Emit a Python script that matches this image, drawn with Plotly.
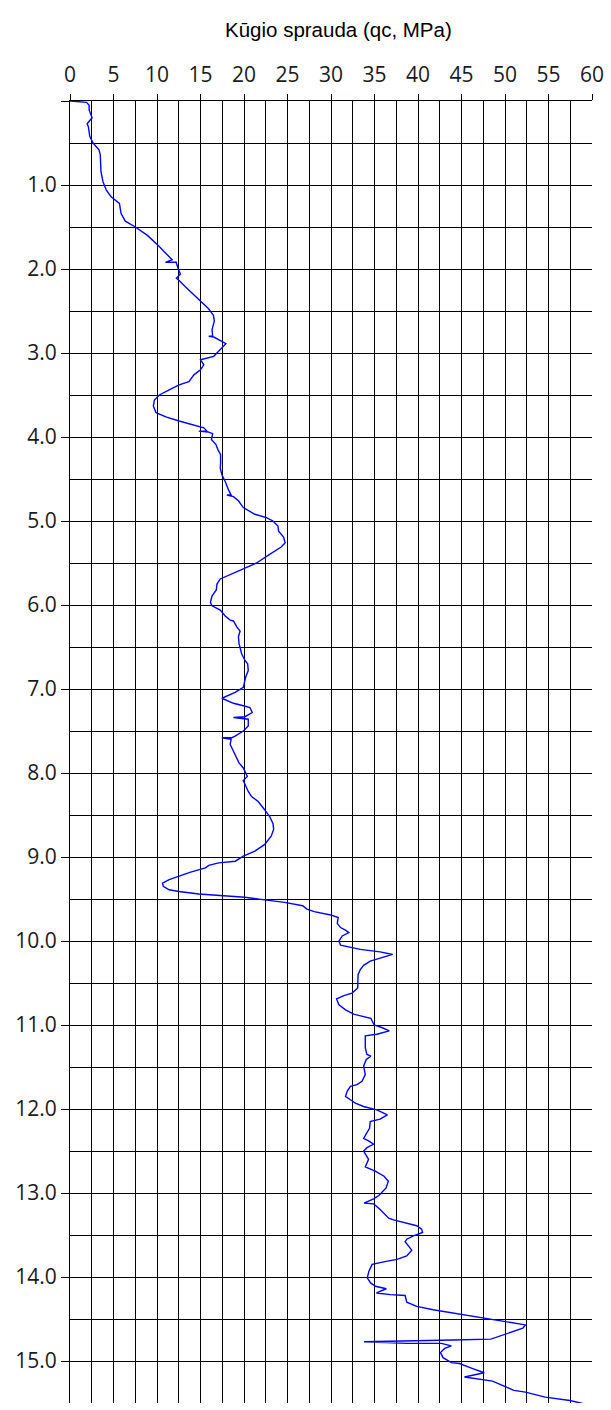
import plotly.graph_objects as go

# Cone penetration log: depth (m) and cone resistance qc (MPa)
depth = [
    0.00, 0.016, 0.05, 0.107, 0.20, 0.27, 0.31, 0.42, 0.50, 0.58, 0.64, 0.84, 0.96,
    1.06, 1.14, 1.18, 1.22, 1.34, 1.43, 1.50, 1.60, 1.73, 1.89, 1.92, 1.92, 1.99,
    2.06, 2.11, 2.14, 2.21, 2.36, 2.47, 2.55, 2.62, 2.72, 2.80, 2.80, 2.81, 2.84,
    2.89, 2.98, 3.04, 3.08, 3.14, 3.20, 3.26, 3.34, 3.38, 3.44, 3.50, 3.56, 3.63,
    3.71, 3.76, 3.81, 3.85, 3.89, 3.93, 3.93, 3.94, 3.96, 4.03, 4.09, 4.15, 4.21,
    4.31, 4.37, 4.45, 4.53, 4.63, 4.69, 4.69, 4.71, 4.76, 4.84, 4.92, 4.96, 5.00,
    5.06, 5.12, 5.19, 5.26, 5.31, 5.41, 5.50, 5.57, 5.63, 5.69, 5.75, 5.82, 5.89,
    5.97, 6.01, 6.06, 6.13, 6.18, 6.19, 6.26, 6.31, 6.38, 6.46, 6.58, 6.66, 6.70,
    6.78, 6.86, 6.98, 7.04, 7.11, 7.17, 7.20, 7.22, 7.28, 7.33, 7.34, 7.35, 7.36,
    7.44, 7.50, 7.56, 7.58, 7.58, 7.60, 7.66, 7.78, 7.88, 7.94, 8.04, 8.09, 8.14,
    8.22, 8.28, 8.34, 8.44, 8.52, 8.60, 8.67, 8.75, 8.85, 8.93, 8.99, 9.05, 9.07,
    9.10, 9.13, 9.18, 9.22, 9.27, 9.31, 9.35, 9.39, 9.41, 9.44, 9.46, 9.48, 9.51,
    9.54, 9.58, 9.62, 9.65, 9.69, 9.72, 9.79, 9.84, 9.87, 9.90, 9.94, 10.00, 10.05,
    10.10, 10.13, 10.16, 10.20, 10.24, 10.29, 10.34, 10.40, 10.48, 10.56, 10.62,
    10.65, 10.69, 10.76, 10.82, 10.87, 10.90, 10.92, 11.00, 11.03, 11.07, 11.11,
    11.13, 11.27, 11.35, 11.37, 11.41, 11.49, 11.59, 11.67, 11.71, 11.73, 11.79,
    11.85, 11.89, 11.93, 11.97, 12.01, 12.07, 12.12, 12.15, 12.23, 12.27, 12.35,
    12.38, 12.42, 12.46, 12.50, 12.60, 12.69, 12.74, 12.80, 12.86, 12.94, 13.03,
    13.07, 13.12, 13.13, 13.20, 13.30, 13.32, 13.36, 13.39, 13.43, 13.47, 13.51,
    13.55, 13.58, 13.64, 13.68, 13.75, 13.79, 13.82, 13.85, 13.93, 14.01, 14.07,
    14.11, 14.14, 14.19, 14.21, 14.22, 14.30, 14.35, 14.39, 14.44, 14.48, 14.53,
    14.57, 14.61, 14.64, 14.67, 14.71, 14.74, 14.75, 14.76, 14.77, 14.79, 14.79,
    14.82, 14.85, 14.90, 14.96, 15.02, 15.03, 15.09, 15.12, 15.14, 15.19, 15.22,
    15.24, 15.29, 15.35, 15.37, 15.43, 15.47, 15.53,
]
qc = [
    0.0, 1.9, 2.2, 2.2, 2.54, 1.97, 2.12, 2.27, 2.65, 3.33, 3.48, 3.56, 3.79,
    4.17, 4.73, 5.23, 5.68, 5.87, 6.36, 7.5, 8.9, 10.23, 11.74, 10.98, 12.2, 12.42,
    12.69, 12.23, 12.58, 13.26, 14.77, 15.9, 16.48, 16.59, 16.33, 16.4, 15.95, 16.52, 17.08,
    17.92, 17.08, 16.52, 15.0, 15.38, 15.0, 14.24, 13.67, 12.54, 11.4, 10.27, 9.7, 9.58,
    9.89, 11.02, 12.54, 14.05, 15.38, 15.76, 14.8, 15.87, 16.4, 16.25, 16.78, 17.0, 17.31,
    17.31, 17.27, 17.46, 17.84, 18.22, 18.52, 18.03, 18.79, 19.36, 19.92, 21.25, 22.58, 23.33,
    23.9, 23.98, 24.55, 24.73, 24.28, 22.77, 21.44, 19.92, 18.6, 17.27, 16.89, 16.82, 16.33,
    16.14, 16.33, 17.27, 17.84, 18.41, 18.79, 19.17, 19.55, 19.36, 19.43, 19.73, 20.11, 20.42,
    20.49, 20.19, 19.92, 18.98, 17.46, 18.79, 19.92, 20.68, 20.95, 20.11, 18.79, 19.92, 20.49,
    20.49, 19.92, 18.98, 18.6, 17.46, 18.52, 18.41, 18.98, 19.43, 19.92, 20.38, 19.92, 20.11,
    20.49, 20.87, 21.63, 22.39, 22.95, 23.33, 23.41, 23.14, 22.39, 21.25, 19.92, 19.0, 17.08,
    15.95, 15.57, 13.86, 12.73, 11.4, 10.64, 10.72, 11.4, 12.54, 14.81, 17.46, 20.11, 22.39,
    24.66, 26.74, 27.23, 28.07, 29.96, 30.83, 30.72, 31.1, 31.67, 32.05, 31.29, 30.91, 31.1,
    33.37, 35.64, 37.08, 35.64, 34.51, 33.75, 33.37, 33.11, 33.11, 33.07, 32.42,
    31.48, 30.64, 30.91, 31.67, 32.61, 33.75, 34.58, 34.96, 35.83, 36.7, 35.27,
    33.94, 33.94, 34.13, 34.58, 34.05, 33.75, 33.94, 33.56, 32.99, 32.23, 31.86,
    31.67, 32.23, 32.8, 33.75, 35.27, 36.48, 35.64, 34.51, 34.43, 34.2, 33.75,
    34.32, 34.89, 34.13, 33.75, 34.32, 33.94, 35.08, 36.1, 36.59, 36.33, 35.5,
    34.9, 33.8, 34.92, 35.68, 36.63, 37.2, 38.71, 39.85, 40.42, 40.53, 39.47,
    38.71, 38.52, 39.02, 39.28, 38.71, 37.58, 36.06, 34.73, 34.36, 34.17, 34.55,
    35.11, 36.36, 35.23, 36.82, 38.52, 38.71, 39.85, 41.74, 44.77, 47.42, 50.08,
    52.35, 52.05, 51.21, 50.27, 49.32, 48.37, 44.02, 38.33, 33.79, 38.71, 42.69,
    43.83, 43.07, 42.58, 42.88, 43.83, 44.77, 46.29, 47.05, 47.61, 45.34, 47.42,
    48.56, 49.7, 51.02, 52.35, 54.62, 57.46, 59.92,
]

x_ticks = list(range(0, 61, 5))
y_ticks = list(range(0, 16))
y_labels = ["" if d == 0 else f"{d:.1f}" for d in y_ticks]

fig = go.Figure()
fig.add_trace(go.Scatter(
    x=qc, y=depth, mode="lines",
    line=dict(color="#0000ff", width=1.4),
    hoverinfo="x+y", showlegend=False,
))

tick_font = dict(family="Open Sans, Noto Sans, sans-serif", size=21, color="#1a1a1a")

fig.update_layout(
    width=611, height=1410,
    margin=dict(l=70, r=13, t=101, b=7),
    paper_bgcolor="white", plot_bgcolor="white",
    xaxis=dict(
        side="top", range=[0, 60],
        tickmode="array", tickvals=x_ticks,
        ticks="outside", ticklen=6, tickcolor="black", tickwidth=1,
        tickfont=tick_font, ticklabelstandoff=4,
        showgrid=True, gridcolor="black", gridwidth=1,
        minor=dict(dtick=2.5, showgrid=True, gridcolor="black", gridwidth=1),
        showline=True, linecolor="black", linewidth=1,
        zeroline=False, fixedrange=True,
    ),
    yaxis=dict(
        range=[15.5, 0],
        tickmode="array", tickvals=y_ticks, ticktext=y_labels,
        ticks="outside", ticklen=8, tickcolor="black", tickwidth=1,
        tickfont=tick_font,
        showgrid=True, gridcolor="black", gridwidth=1,
        minor=dict(dtick=0.5, showgrid=True, gridcolor="black", gridwidth=1),
        showline=True, linecolor="black", linewidth=1,
        zeroline=False, fixedrange=True,
    ),
    annotations=[dict(
        text="Kūgio sprauda (qc, MPa)",
        xref="paper", yref="paper", x=0.515, y=1 + (101 - 30) / 1302,
        xanchor="center", yanchor="middle", showarrow=False,
        font=dict(family="Liberation Sans, Arial, sans-serif", size=20.5, color="#000000"),
    )],
)

fig.write_html("out.html")
